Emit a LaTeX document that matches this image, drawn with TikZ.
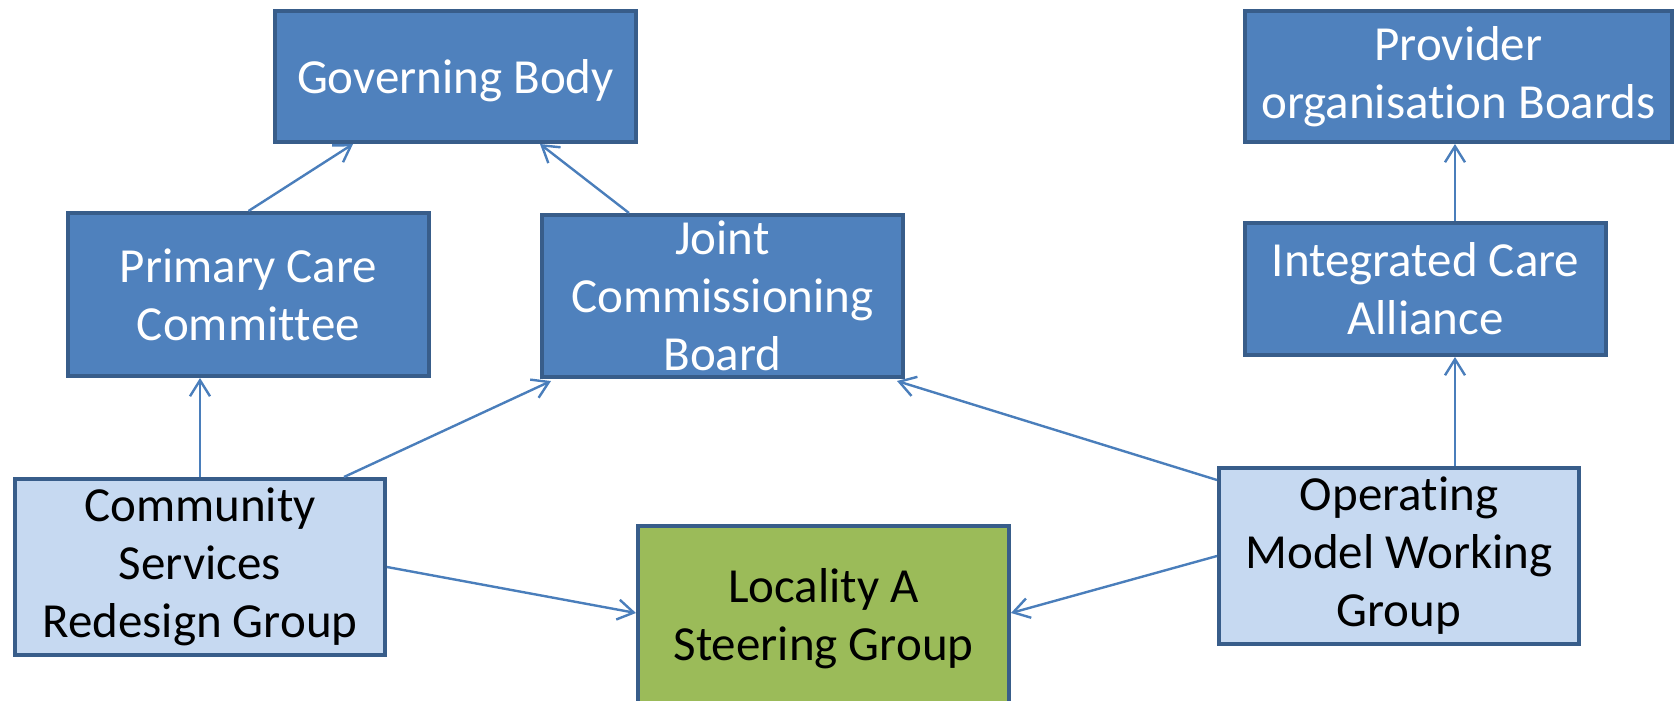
\documentclass[tikz,border=0pt]{standalone}
\usepackage{fontspec}
\setmainfont{Carlito}[Ligatures=NoCommon]
\usepackage{xcolor}
\usetikzlibrary{arrows.meta}
\definecolor{boxBlue}{HTML}{4F81BD}
\definecolor{boxEdge}{HTML}{385D8A}
\definecolor{boxLight}{HTML}{C6D9F1}
\definecolor{boxGreen}{HTML}{9BBB59}
\definecolor{linkBlue}{HTML}{4A7EBB}
% keep t, i apart (no ligature)
\newcommand{\nl}{\kern0pt }

\tikzset{
    board/.style={draw=boxEdge, line width=2pt, inner sep=0pt, align=center,
        font=\fontsize{24.5}{29}\selectfont},
    darkbox/.style={board, fill=boxBlue, text=white},
    lightbox/.style={board, fill=boxLight, text=black},
    greenbox/.style={board, fill=boxGreen, text=black},
    link/.style={draw=linkBlue, line width=1.2pt, -{Straight Barb[length=8pt,width=10pt]}}
}

\begin{document}
\begin{tikzpicture}[x=0.5pt,y=-0.5pt]
        \useasboundingbox (0,0) rectangle (1677,701);
        % top row
        \node[darkbox, minimum width=180.5pt, minimum height=65.5pt, text height=21pt] (gov) at (455.5,76.5) {Governing Body};
        \node[darkbox, minimum width=213.5pt, minimum height=65.5pt] (pob) at (1458.5,76.5) {Provider\\organisat\nl ion Boards};
        % middle row
        \node[darkbox, minimum width=180.5pt, minimum height=81.5pt] (pcc) at (248.5,294.5) {Primary Care\\Commit\nl t\nl ee};
        \node[darkbox, minimum width=180.5pt, minimum height=81pt] (jcb) at (722.5,296) {Joint\\Commissioning\\Board};
        \node[darkbox, minimum width=180.5pt, minimum height=66pt] (ica) at (1425.5,289) {Integrated Care\\Alliance};
        % bottom row
        \node[lightbox, minimum width=185pt, minimum height=88pt] (csrg) at (200,567) {Community\\Services\\Redesign Group};
        \node[greenbox, minimum width=185.5pt, minimum height=93pt] (lasg) at (823.5,619) {Locality A\\Steering Group};
        \node[lightbox, minimum width=180pt, minimum height=88pt] (omwg) at (1399,556) {Operat\nl ing\\Model Working\\Group};
        % links
        \draw[link] (pcc.north) -- ([xshift=-51.25pt]gov.south);
        \draw[link] ([xshift=-46.75pt]jcb.north) -- ([xshift=42.25pt]gov.south);
        \draw[link] (csrg.north) -- ([xshift=-24.25pt]pcc.south);
        \draw[link] ([xshift=72pt]csrg.north) -- ([xshift=5.5pt,yshift=-1pt]jcb.south west);
        \draw[link] (csrg.east) -- ([yshift=3pt]lasg.west);
        \draw[link] ([yshift=-7pt]omwg.north west) -- ([xshift=-4pt,yshift=-1pt]jcb.south east);
        \draw[link] (omwg.west) -- ([yshift=3pt]lasg.east);
        \draw[link] ([xshift=28pt]omwg.north) -- ([xshift=14.75pt]ica.south);
        \draw[link] ([xshift=14.75pt]ica.north) -- ([xshift=-1.75pt]pob.south);
    \end{tikzpicture}
\end{document}
